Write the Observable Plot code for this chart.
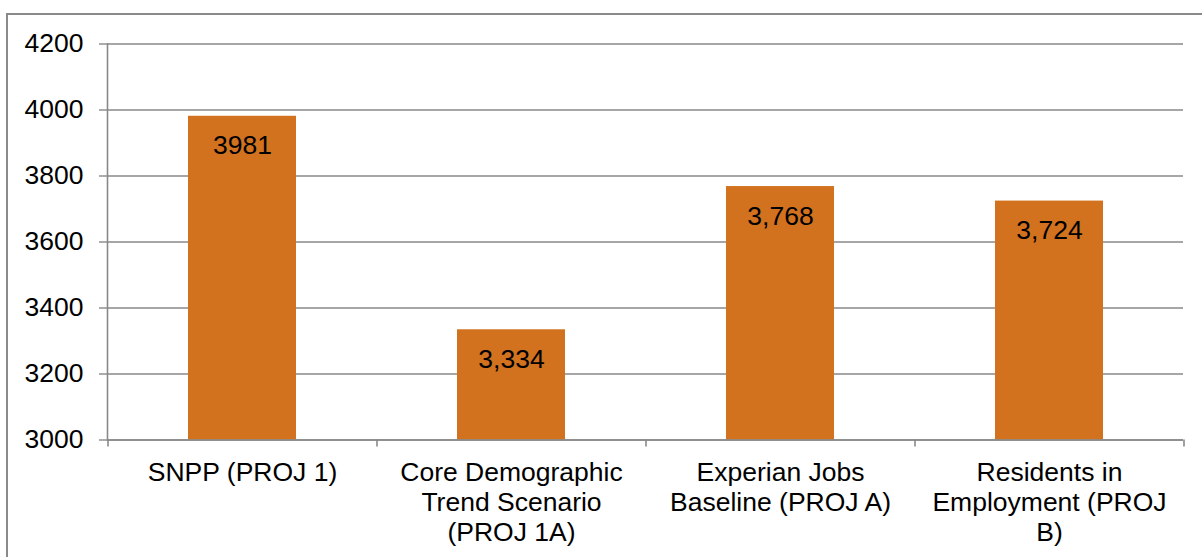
<!DOCTYPE html>
<html><head><meta charset="utf-8">
<script src="https://cdn.jsdelivr.net/npm/d3@7"></script>
<script src="https://cdn.jsdelivr.net/npm/@observablehq/plot@0.6"></script>
<style>
html,body{margin:0;padding:0;background:#fff;overflow:hidden}
#wrap{position:relative;width:1202px;height:557px}
#border{position:absolute;left:6px;top:13px;width:1200px;height:600px;border:2px solid #8a8a8a;box-sizing:border-box}
#chart{position:absolute;left:0;top:0}
</style></head><body>
<div id="wrap"><div id="border"></div><div id="chart"></div></div>
<script>
const categories = ["SNPP (PROJ 1)", "Core Demographic Trend Scenario (PROJ 1A)", "Experian Jobs Baseline (PROJ A)", "Residents in Employment (PROJ B)"];
const values = [3981, 3334, 3768, 3724];
const valueLabels = ["3981", "3,334", "3,768", "3,724"];
const tickLabels = ["SNPP (PROJ 1)", "Core Demographic\nTrend Scenario\n(PROJ 1A)", "Experian Jobs\nBaseline (PROJ A)", "Residents in\nEmployment (PROJ\nB)"];
const yTicks = [3000, 3200, 3400, 3600, 3800, 4000, 4200];

const data = categories.map((c, i) => ({cat: c, value: values[i], label: valueLabels[i], tick: tickLabels[i]}));
const W = 1202, H = 557, mL = 107, mR = 19, mT = 43.5, mB = 117.5;
const step = (W - mL - mR) / categories.length;
const grey = "#898989";
const barColor = "#D2711E";
const fs = 26.5;

const chart = Plot.plot({
  width: W, height: H,
  marginLeft: mL, marginRight: mR, marginTop: mT, marginBottom: mB,
  style: {fontFamily: "'Liberation Sans', Arial, Helvetica, sans-serif", fontSize: fs + "px", color: "#000", background: "transparent", overflow: "visible"},
  x: {type: "band", domain: categories, paddingInner: 0.6, paddingOuter: 0.3},
  y: {domain: [3000, 4200]},
  marks: [
    Plot.gridY(yTicks, {stroke: grey, strokeOpacity: 1, strokeWidth: 1.4}),
    Plot.barY(data, {x: "cat", y1: 3000, y2: "value", fill: barColor}),
    Plot.ruleY([3000], {stroke: grey, strokeWidth: 1.6}),
    Plot.frame({anchor: "left", stroke: grey, strokeWidth: 1.6}),
    Plot.axisY({ticks: yTicks, tickSize: 8, tickPadding: 16, stroke: grey, strokeWidth: 1.4, fill: "#000", label: null, tickFormat: d => String(d)}),
    Plot.axisX({ticks: categories, tickSize: 7, dx: -step / 2, stroke: grey, strokeWidth: 1.6, tickFormat: () => "", label: null}),
    Plot.axisX({ticks: [categories[categories.length - 1]], tickSize: 7, dx: step / 2, stroke: grey, strokeWidth: 1.6, tickFormat: () => "", label: null}),
    Plot.axisX({ticks: categories, tickSize: 0, tickPadding: 20, lineHeight: 1.13, fill: "#000", label: null, tickFormat: d => tickLabels[categories.indexOf(d)]}),
    Plot.text(data, {x: "cat", y: "value", text: "label", dy: 29.5, fill: "#000", fontSize: fs})
  ]
});
document.getElementById("chart").appendChild(chart);
</script>
</body></html>
